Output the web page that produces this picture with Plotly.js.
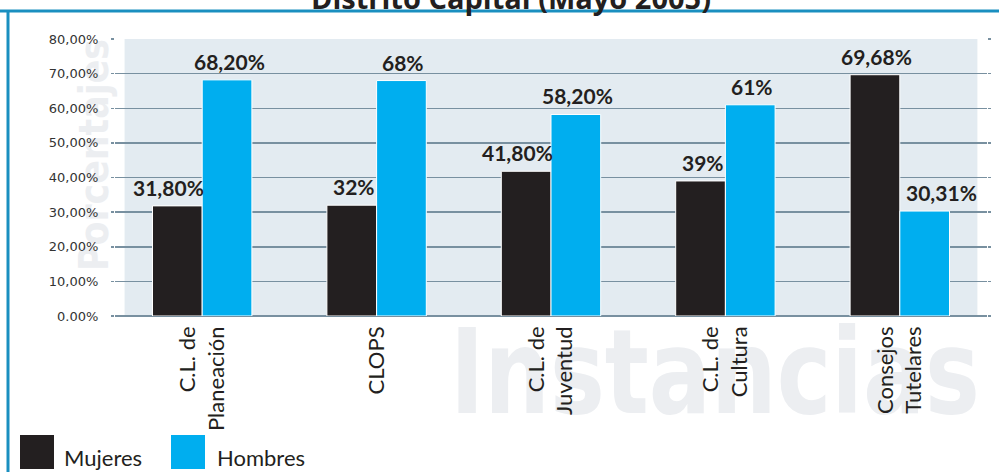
<!DOCTYPE html>
<html>
<head>
<meta charset="utf-8">
<script src="https://cdn.plot.ly/plotly-3.0.1.min.js"></script>
<style>
html,body{margin:0;padding:0;background:#fff;}
#wrap{position:relative;width:999px;height:472px;}
#wm{position:absolute;left:0;top:0;z-index:0;}
#chart{position:absolute;left:0;top:0;width:999px;height:472px;z-index:1;}
</style>
</head>
<body>
<div id="wrap">
<svg id="wm" width="999" height="472" xmlns="http://www.w3.org/2000/svg"></svg>
<div id="chart"></div>
</div>
<script>
// ---- Data ----
var categories = ["C.L. de<br>Planeación", "CLOPS", "C.L. de<br>Juventud", "C.L. de<br>Cultura", "Consejos<br>Tutelares"];
var mujeres = [31.80, 32, 41.80, 39, 69.68];
var hombres = [68.20, 68, 58.20, 61, 30.31];
var mujeresLabels = ["31,80%", "32%", "41,80%", "39%", "69,68%"];
var hombresLabels = ["68,20%", "68%", "58,20%", "61%", "30,31%"];
var seriesNames = ["Mujeres", "Hombres"];
var seriesColors = ["#231f20", "#00aeef"];
var yTickVals = [0, 10, 20, 30, 40, 50, 60, 70, 80];
var yTickText = ["0.00%", "10,00%", "20,00%", "30,00%", "40,00%", "50,00%", "60,00%", "70,00%", "80,00%"];
var titleText = "Distrito Capital (Mayo 2005)";
var yTitleText = "Porcentajes";
var xTitleText = "Instancias";

// ---- Layout geometry (pixels) ----
var W = 999, H = 472;
var mL = 115, mR = 12, mT = 39, mB = 156;
var pw = W - mL - mR, ph = H - mT - mB;
function px(x){ return (x - mL) / pw; }
function py(y){ return (H - mB - y) / ph; }

var gridColor = "#7890a0";
var textDark = "#231f20";
var wmColor = "#eceef1";
var bargap = 0.43;

// ---- Watermark-style axis titles, drawn behind the chart ----
(function(){
  var ns = "http://www.w3.org/2000/svg";
  var svg = document.getElementById("wm");
  function addText(str, attrs){
    var t = document.createElementNS(ns, "text");
    for (var k in attrs) t.setAttribute(k, attrs[k]);
    t.textContent = str;
    svg.appendChild(t);
  }
  var common = {"font-family": "DejaVu Sans", "font-weight": "bold", "fill": wmColor,
                "text-anchor": "middle", "lengthAdjust": "spacingAndGlyphs"};
  addText(yTitleText, Object.assign({}, common,
    {"font-size": 40, "transform": "translate(108,155) rotate(-90)", x: 0, y: 0, textLength: 232}));
  addText(xTitleText, Object.assign({}, common,
    {"font-size": 118, x: 715, y: 413, textLength: 530}));
})();

var data = [
  {
    type: "bar", name: seriesNames[0], x: categories, y: mujeres,
    marker: {color: seriesColors[0], line: {color: "#ffffff", width: 1}},
    hoverinfo: "skip"
  },
  {
    type: "bar", name: seriesNames[1], x: categories, y: hombres,
    marker: {color: seriesColors[1], line: {color: "#ffffff", width: 1}},
    hoverinfo: "skip"
  }
];

var shapes = [
  // shaded plot background
  {type: "rect", xref: "x", yref: "paper", x0: -0.445, x1: 4.445, y0: 0, y1: 1,
   fillcolor: "#e3ebf1", line: {width: 0}, layer: "below"},
  // frame lines
  {type: "line", xref: "paper", yref: "paper", x0: px(-10), x1: px(1010), y0: py(11), y1: py(11),
   line: {color: "#1a8fc0", width: 3}},
  {type: "line", xref: "paper", yref: "paper", x0: px(8), x1: px(8), y0: py(11), y1: py(490),
   line: {color: "#1a8fc0", width: 3}},
  // legend squares
  {type: "rect", xref: "paper", yref: "paper", x0: px(20), x1: px(54), y0: py(435), y1: py(469),
   fillcolor: seriesColors[0], line: {width: 0}},
  {type: "rect", xref: "paper", yref: "paper", x0: px(171), x1: px(205), y0: py(435), y1: py(469),
   fillcolor: seriesColors[1], line: {width: 0}}
];

var annotations = [
  {text: seriesNames[0], xref: "paper", yref: "paper", x: px(62), y: py(457), xanchor: "left", yanchor: "middle",
   showarrow: false, font: {family: "Lato", size: 22, color: textDark}},
  {text: seriesNames[1], xref: "paper", yref: "paper", x: px(215), y: py(457), xanchor: "left", yanchor: "middle",
   showarrow: false, font: {family: "Lato", size: 22, color: textDark}}
];

// Value labels above the bars; a wide label next to a taller neighbour
// is pushed to the outer side of its bar so that it stays readable.
var barFont = {family: "Lato", size: 21, color: textDark, weight: "bold"};
var halfBar = (1 - bargap) / 4; // half of one bar's width, in category units
var seriesVals = [mujeres, hombres];
var seriesLabels = [mujeresLabels, hombresLabels];
for (var s = 0; s < 2; s++) {
  for (var i = 0; i < categories.length; i++) {
    var v = seriesVals[s][i], other = seriesVals[1 - s][i];
    var lbl = seriesLabels[s][i];
    var ann = {text: "<b>" + lbl + "</b>", xref: "x", yref: "y", y: v, yanchor: "bottom", yshift: 4,
               showarrow: false, font: barFont};
    var wide = lbl.length > 4;
    if (wide && other > v) {
      if (s === 0) { ann.x = i; ann.xanchor = "right"; ann.xshift = 4; }
      else { ann.x = i; ann.xanchor = "left"; ann.xshift = 4; }
    } else {
      ann.x = i + (s === 0 ? -halfBar : halfBar);
      ann.xanchor = "center";
      ann.xshift = 2;
    }
    annotations.push(ann);
  }
}

var layout = {
  width: W, height: H,
  margin: {l: mL, r: mR, t: mT, b: mB, pad: 0},
  paper_bgcolor: "rgba(0,0,0,0)",
  plot_bgcolor: "rgba(0,0,0,0)",
  showlegend: false,
  barmode: "group",
  bargap: bargap,
  bargroupgap: 0,
  font: {family: "Lato", color: textDark},
  title: {
    text: "<b>" + titleText + "</b>",
    font: {family: "Open Sans", size: 29, color: textDark},
    xref: "container", x: 511 / W, xanchor: "center",
    yref: "container", y: 1 - 9 / H, yanchor: "bottom"
  },
  xaxis: {
    type: "category",
    range: [-0.5, 4.5],
    tickangle: -90,
    tickfont: {family: "Lato", size: 22, color: textDark},
    showgrid: false, zeroline: false, showline: false, ticks: "",
    ticklabelstandoff: 5,
    fixedrange: true
  },
  yaxis: {
    range: [0, 80],
    tickvals: yTickVals, ticktext: yTickText,
    tickfont: {family: "DejaVu Sans", size: 13, color: "#333333"},
    showgrid: true, gridcolor: gridColor, gridwidth: 1.5,
    zeroline: true, zerolinecolor: gridColor, zerolinewidth: 1.5,
    showline: false,
    ticks: "outside", ticklen: 3, tickwidth: 1.5, tickcolor: gridColor, mirror: "ticks",
    ticklabelstandoff: 10,
    fixedrange: true
  },
  shapes: shapes,
  annotations: annotations
};

Plotly.newPlot("chart", data, layout, {staticPlot: true, displayModeBar: false});
</script>
</body>
</html>
